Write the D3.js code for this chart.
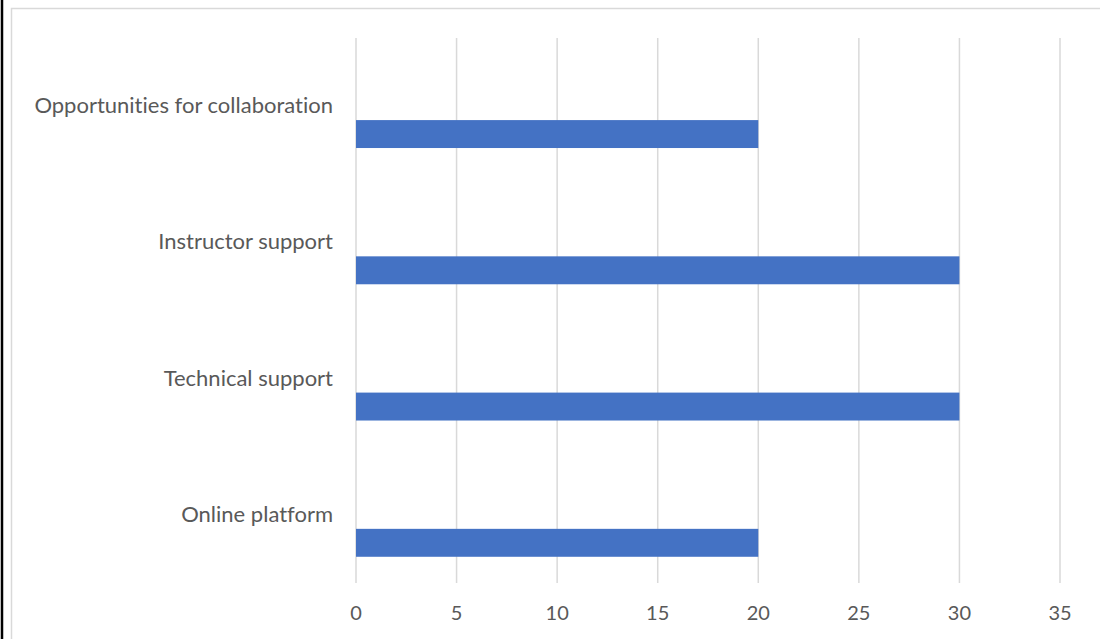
<!DOCTYPE html>
<html><head><meta charset="utf-8">
<script src="https://cdn.jsdelivr.net/npm/d3@7"></script>
<style>html,body{margin:0;padding:0;background:#fff;}svg{display:block;}text{font-variant-ligatures:none;}</style>
</head><body>
<svg id="c" width="1100" height="639"></svg>
<script>
const categories = ["Opportunities for collaboration", "Instructor support", "Technical support", "Online platform"];
const values = [20, 30, 30, 20];
const xTicks = [0, 5, 10, 15, 20, 25, 30, 35];

const svg = d3.select("#c");
const W = 1100, H = 639;
const plot = {left: 356, right: 1060, top: 38, bottom: 583};

// outer frame
svg.append("line").attr("x1", 2).attr("x2", 2).attr("y1", 0).attr("y2", H)
  .attr("stroke", "#000").attr("stroke-width", 2.5);
svg.append("rect").attr("x", 11.5).attr("y", 8.5).attr("width", 1200).attr("height", 800)
  .attr("fill", "#fff").attr("stroke", "#d9d9d9").attr("stroke-width", 1.5);

const x = d3.scaleLinear().domain([0, 35]).range([plot.left, plot.right]);
const y = d3.scaleBand().domain(categories).range([plot.top, plot.bottom]).padding(0);
const barH = y.bandwidth() * 0.205;

// gridlines
svg.append("g").selectAll("line").data(xTicks).join("line")
  .attr("x1", d => x(d)).attr("x2", d => x(d))
  .attr("y1", plot.top).attr("y2", plot.bottom)
  .attr("stroke", "#d9d9d9").attr("stroke-width", 1.5);

// bars
svg.append("g").selectAll("rect").data(categories).join("rect")
  .attr("x", x(0))
  .attr("y", d => y(d) + y.bandwidth() / 2 + barH / 2)
  .attr("width", (d, i) => x(values[i]) - x(0))
  .attr("height", barH)
  .attr("fill", "#4472C4");

const font = "Lato, 'Open Sans', sans-serif";

// category labels
svg.append("g").selectAll("text").data(categories).join("text")
  .attr("x", 333)
  .attr("y", d => y(d) + y.bandwidth() / 2 + 7)
  .attr("text-anchor", "end")
  .attr("font-family", font).attr("font-size", 22)
  .attr("fill", "#595959")
  .text(d => d);

// x tick labels
svg.append("g").selectAll("text").data(xTicks).join("text")
  .attr("x", d => x(d))
  .attr("y", 620)
  .attr("text-anchor", "middle")
  .attr("font-family", font).attr("font-size", 20)
  .attr("fill", "#595959")
  .text(d => d);
</script>
</body></html>
